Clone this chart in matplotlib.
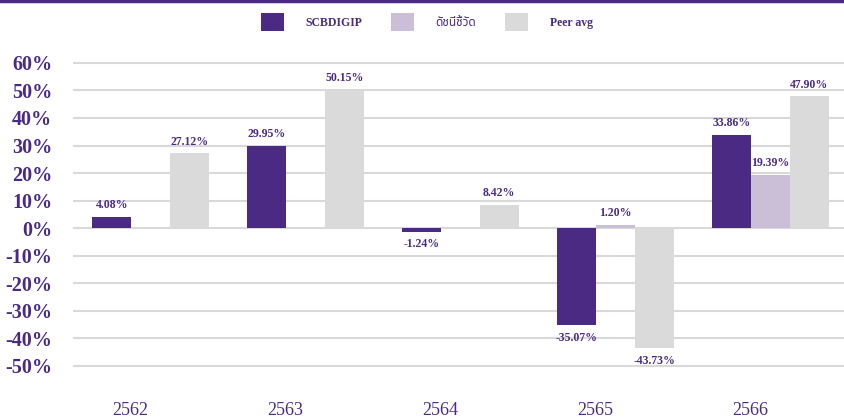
import numpy as np
import matplotlib
matplotlib.use("Agg")
from matplotlib import pyplot as plt
from matplotlib.patches import Patch
from matplotlib.lines import Line2D

years = ["2562", "2563", "2564", "2565", "2566"]
series_names = ["SCBDIGIP", "ดัชนีชี้วัด", "Peer avg"]
fund = [4.08, 29.95, -1.24, -35.07, 33.86]
bench = [np.nan, np.nan, np.nan, 1.20, 19.39]
peer = [27.12, 50.15, 8.42, -43.73, 47.90]
yticks = [-50, -40, -30, -20, -10, 0, 10, 20, 30, 40, 50, 60]

purple = "#4B2A84"
colors = ["#4B2A84", "#CBBFD8", "#DADADA"]
serif = ["Liberation Serif", "Noto Sans Thai", "Noto Serif Thai", "DejaVu Sans"]

fig = plt.figure(figsize=(8.45, 4.19), dpi=100)
ax = fig.add_axes([73 / 845, 34 / 419, 775 / 845, 335 / 419])

x = np.arange(len(years))
w = 0.25
for i, vals in enumerate([fund, bench, peer]):
    bars = ax.bar(x + (i - 1) * w, vals, w, color=colors[i], zorder=3)
    for b, v in zip(bars, vals):
        if np.isnan(v):
            continue
        cx = b.get_x() + b.get_width() / 2
        if v >= 0:
            ax.annotate(f"{v:.2f}%", (cx, v), xytext=(0, 4), textcoords="offset points",
                        ha="center", va="bottom", fontsize=8.5, fontweight="bold",
                        color=purple, family=serif, zorder=4)
        else:
            ax.annotate(f"{v:.2f}%", (cx, v), xytext=(0, -5), textcoords="offset points",
                        ha="center", va="top", fontsize=8.5, fontweight="bold",
                        color=purple, family=serif, zorder=4)

ax.set_xlim(-0.5, len(years) - 0.5)
ax.set_ylim(-57, 64.7)
ax.set_yticks(yticks)
ax.set_yticklabels([f"{t}%" for t in yticks], fontsize=14.5, fontweight="bold",
                   color=purple, family=serif)
# year labels sit a bit left of the group centres
ax.set_xticks(x - 0.13)
ax.set_xticklabels(years, fontsize=13, color=purple, family=serif)
ax.tick_params(axis="y", length=0, pad=15)
ax.tick_params(axis="x", length=0, pad=12)
ax.grid(axis="y", color="#D9D9D9", linewidth=1.5, zorder=0)
for s in ax.spines.values():
    s.set_visible(False)

handles = [Patch(facecolor=c) for c in colors]
leg = fig.legend(handles, series_names, loc="upper center", bbox_to_anchor=(0.505, 0.995),
                 ncol=3, frameon=False, handlelength=2.0, handleheight=2.0,
                 handletextpad=1.8, columnspacing=2.4,
                 prop={"family": serif, "weight": "bold", "size": 8.5})
for t in leg.get_texts():
    t.set_color(purple)

fig.add_artist(Line2D([0, 1], [0.997, 0.997], transform=fig.transFigure, color=purple, linewidth=2.5))

fig.savefig("out.png", dpi=100)
